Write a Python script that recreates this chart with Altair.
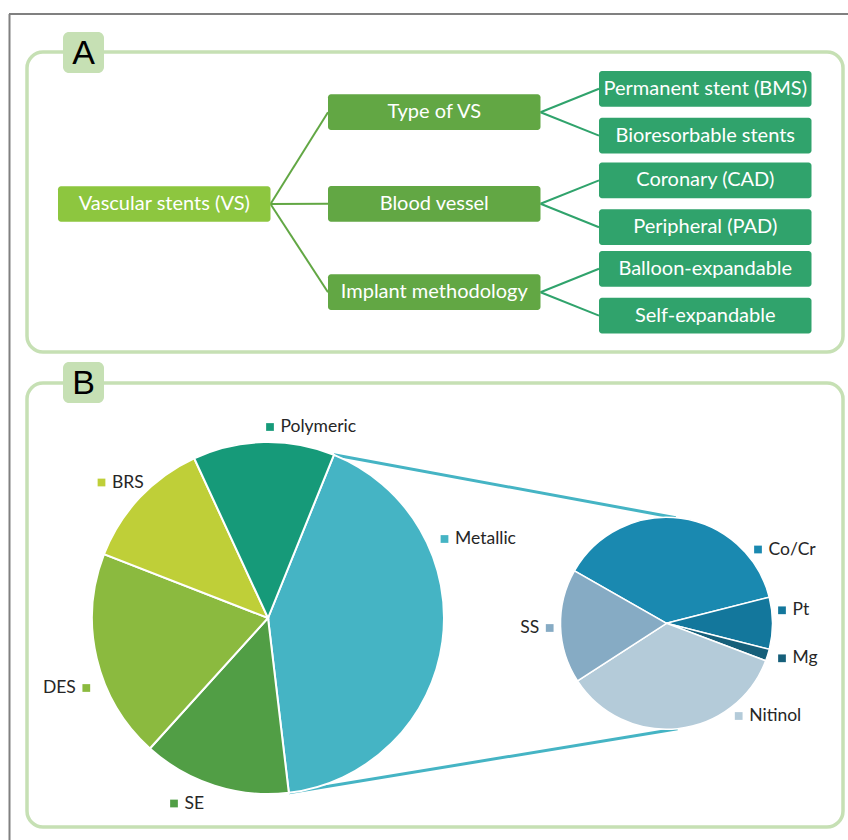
import math
import altair as alt
import pandas as pd

W, H = 848, 840

# ---------------- data ----------------
root_name = "Vascular stents (VS)"
branch_names = ["Type of VS", "Blood vessel", "Implant methodology"]
leaf_names = ["Permanent stent (BMS)", "Bioresorbable stents",
              "Coronary (CAD)", "Peripheral (PAD)",
              "Balloon-expandable", "Self-expandable"]
leaf_parent = [0, 0, 1, 1, 2, 2]

big_cats = ["Metallic", "SE", "DES", "BRS", "Polymeric"]
big_vals = [42.0, 13.6, 19.2, 12.2, 13.0]
small_cats = ["Co/Cr", "Pt", "Mg", "Nitinol", "SS"]
small_vals = [37.8, 7.9, 1.8, 35.1, 17.4]
panel_letters = ["A", "B"]

# ---------------- styles ----------------
big_colors = ["#45b4c4", "#519e45", "#8bba3f", "#bfcf38", "#169a79"]
small_colors = ["#1a89b0", "#13779c", "#165f7a", "#b4cbd9", "#86abc4"]
root_fill, branch_fill, leaf_fill = "#8dc63f", "#62a744", "#30a36c"
panel_col = "#c6e0b4"
label_col = "#262626"
FONT = "Lato"

# ---------------- layout ----------------
col_left = [58, 328, 599]
box_w, box_h = 212.5, 35.7
root_yc = 204.0
branch_yc = [112.2, 203.8, 292.2]
leaf_dy = 23.4

panels = pd.DataFrame({"x0": [27, 27], "x1": [843, 843],
                       "y0": [52, 383], "y1": [352, 827]})
badges = pd.DataFrame({"letter": panel_letters, "x0": [63, 63], "x1": [104, 104],
                       "y0": [32, 362], "y1": [73, 403]})
badges["xc"] = (badges.x0 + badges.x1) / 2
badges["yc"] = (badges.y0 + badges.y1) / 2 + 1

cx1, cy1, R1, a1 = 268.0, 618.0, 176.0, 22.0
cx2, cy2, R2, a2 = 666.5, 623.3, 106.0, 299.7
small_tangent = [5.0, 174.0]

big_label_pos = {"Metallic": (444.5, 539, 1), "SE": (174, 803.5, 1), "DES": (86.3, 688, -1),
                 "BRS": (101.5, 482.5, 1), "Polymeric": (270, 427, 1)}
small_label_pos = {"Co/Cr": (758, 549.5, 1), "Pt": (782, 610.3, 1), "Mg": (782, 658.3, 1),
                   "Nitinol": (738.7, 716, 1), "SS": (549.7, 628, -1)}

X = alt.Scale(domain=[0, W], range=[0, W], nice=False, zero=False)
Y = alt.Scale(domain=[0, H], range=[0, H], nice=False, zero=False)

def xq(f):
    return alt.X(f, type="quantitative", scale=X, axis=None)

def yq(f):
    return alt.Y(f, type="quantitative", scale=Y, axis=None)

# ---------------- tree nodes ----------------
rows = [{"name": root_name, "lvl": 0, "x0": col_left[0], "yc": root_yc}]
for i, b in enumerate(branch_names):
    rows.append({"name": b, "lvl": 1, "x0": col_left[1], "yc": branch_yc[i]})
for j, lf in enumerate(leaf_names):
    sign = -1 if j % 2 == 0 else 1
    rows.append({"name": lf, "lvl": 2, "x0": col_left[2],
                 "yc": branch_yc[leaf_parent[j]] + sign * leaf_dy})
nodes = pd.DataFrame(rows)
nodes["x1"] = nodes.x0 + box_w
nodes["xc"] = nodes.x0 + box_w / 2
nodes["y0"] = nodes.yc - box_h / 2
nodes["y1"] = nodes.yc + box_h / 2

edges1 = pd.DataFrame({"x": [col_left[0] + box_w] * 3, "y": [root_yc] * 3,
                       "x2": [col_left[1]] * 3, "y2": branch_yc})
e2 = nodes[nodes.lvl == 2]
edges2 = pd.DataFrame({"x": [col_left[1] + box_w] * len(e2),
                       "y": [branch_yc[p] for p in leaf_parent],
                       "x2": [col_left[2]] * len(e2), "y2": list(e2.yc)})

# ---------------- pies ----------------
all_cats = big_cats + small_cats
all_colors = big_colors + small_colors
CS = alt.Scale(domain=all_cats, range=all_colors)

big = pd.DataFrame({"cat": big_cats, "v1": big_vals, "idx": range(len(big_cats))})
small = pd.DataFrame({"cat": small_cats, "v2": small_vals, "idx": range(len(small_cats))})

def pt(cx, cy, r, deg):
    a = math.radians(deg)
    return cx + r * math.sin(a), cy - r * math.cos(a)

met_end = a1 + 360.0 * big_vals[0] / sum(big_vals)
p_a = pt(cx1, cy1, R1, a1)
p_b = pt(cx1, cy1, R1, met_end)
q_a = pt(cx2, cy2, R2, small_tangent[0])
q_b = pt(cx2, cy2, R2, small_tangent[1])
conn = pd.DataFrame({"x": [p_a[0], p_b[0]], "y": [p_a[1], p_b[1]],
                     "x2": [q_a[0], q_b[0]], "y2": [q_a[1], q_b[1]]})

lab_rows = []
for c in big_cats:
    sx, sy, side = big_label_pos[c]
    lab_rows.append({"cat": c, "sx": sx, "sy": sy, "side": side})
for c in small_cats:
    sx, sy, side = small_label_pos[c]
    lab_rows.append({"cat": c, "sx": sx, "sy": sy, "side": side})
labs = pd.DataFrame(lab_rows)
labs["tx"] = labs.sx + labs.side * 10.5

# ---------------- layers ----------------
frame = pd.DataFrame({"x": [9, 9.5], "y": [14, 14], "x2": [W, 9.5], "y2": [14, H]})
frame_l = alt.Chart(frame).mark_rule(color="#808080", strokeWidth=2).encode(
    x=xq("x"), y=yq("y"), x2="x2:Q", y2="y2:Q")

panel_l = alt.Chart(panels).mark_rect(fillOpacity=0, stroke=panel_col, strokeWidth=3.5,
                                      cornerRadius=16).encode(
    x=xq("x0"), x2="x1:Q", y=yq("y0"), y2="y1:Q")
badge_l = alt.Chart(badges).mark_rect(fill=panel_col, cornerRadius=6).encode(
    x=xq("x0"), x2="x1:Q", y=yq("y0"), y2="y1:Q")
badge_t = alt.Chart(badges).mark_text(font="Liberation Sans", fontSize=34, color="black",
                                      baseline="middle", align="center").encode(
    x=xq("xc"), y=yq("yc"), text="letter:N")

edge1_l = alt.Chart(edges1).mark_rule(color=branch_fill, strokeWidth=2).encode(
    x=xq("x"), y=yq("y"), x2="x2:Q", y2="y2:Q")
edge2_l = alt.Chart(edges2).mark_rule(color=leaf_fill, strokeWidth=2).encode(
    x=xq("x"), y=yq("y"), x2="x2:Q", y2="y2:Q")

node_layers = []
for lvl, fill in [(0, root_fill), (1, branch_fill), (2, leaf_fill)]:
    node_layers.append(alt.Chart(nodes[nodes.lvl == lvl]).mark_rect(fill=fill, cornerRadius=3).encode(
        x=xq("x0"), x2="x1:Q", y=yq("y0"), y2="y1:Q"))
node_t = alt.Chart(nodes).mark_text(font=FONT, fontSize=20, color="white",
                                    baseline="middle", align="center").encode(
    x=xq("xc"), y=yq("yc"), text="name:N")

conn_l = alt.Chart(conn).mark_rule(color=big_colors[0], strokeWidth=3).encode(
    x=xq("x"), y=yq("y"), x2="x2:Q", y2="y2:Q")

big_l = alt.Chart(big).mark_arc(radius=R1, stroke="white", strokeWidth=2).encode(
    theta=alt.Theta("v1:Q", stack=True,
                    scale=alt.Scale(range=[math.radians(a1), math.radians(a1) + 2 * math.pi])),
    order=alt.Order("idx:Q"),
    color=alt.Color("cat:N", scale=CS, legend=None),
    x=alt.value(cx1), y=alt.value(cy1))
small_l = alt.Chart(small).mark_arc(radius=R2, stroke="white", strokeWidth=1.5).encode(
    theta=alt.Theta("v2:Q", stack=True,
                    scale=alt.Scale(range=[math.radians(a2), math.radians(a2) + 2 * math.pi])),
    order=alt.Order("idx:Q"),
    color=alt.Color("cat:N", scale=CS, legend=None),
    x=alt.value(cx2), y=alt.value(cy2))

sq_l = alt.Chart(labs).mark_square(size=60, opacity=1).encode(
    x=xq("sx"), y=yq("sy"), color=alt.Color("cat:N", scale=CS, legend=None))
labr_l = alt.Chart(labs[labs.side > 0]).mark_text(font=FONT, fontSize=17.5, color=label_col,
                                                  align="left", baseline="middle").encode(
    x=xq("tx"), y=yq("sy"), text="cat:N")
labl_l = alt.Chart(labs[labs.side < 0]).mark_text(font=FONT, fontSize=17.5, color=label_col,
                                                  align="right", baseline="middle").encode(
    x=xq("tx"), y=yq("sy"), text="cat:N")

chart = alt.layer(
    frame_l, panel_l, badge_l, badge_t, edge1_l, edge2_l, *node_layers, node_t,
    conn_l, big_l, small_l, sq_l, labr_l, labl_l
).resolve_scale(theta="independent").properties(
    width=W, height=H, padding=0, autosize=alt.AutoSizeParams(type="none"),
    background="white"
).configure_view(stroke=None)

chart.save("out.html", embed_options={"renderer": "svg", "actions": False})
